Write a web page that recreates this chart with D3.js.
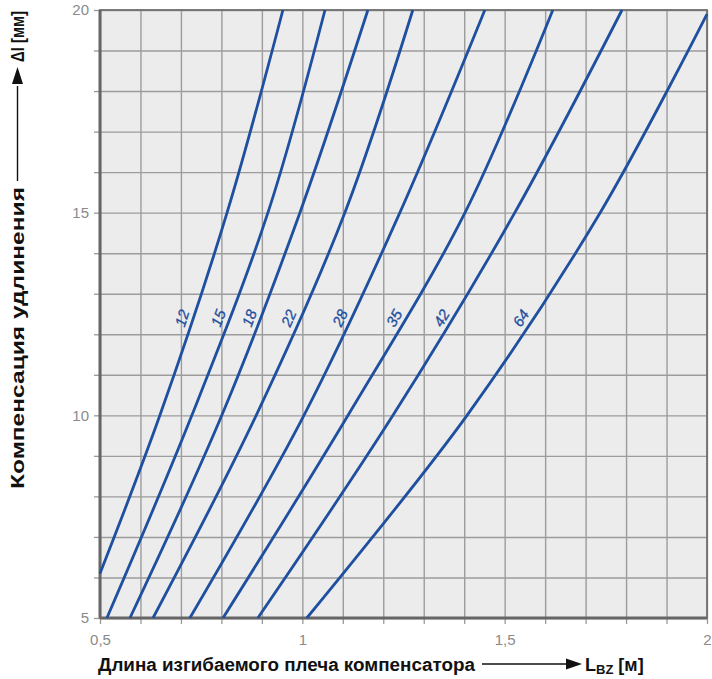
<!DOCTYPE html>
<html><head><meta charset="utf-8">
<script src="https://cdn.jsdelivr.net/npm/d3@7"></script>
<style>
body{margin:0;background:#fff;}
svg{display:block;font-family:"Liberation Sans",Arial,sans-serif;}
</style></head>
<body><svg id="c" width="712" height="679"></svg>
<script>
// ---- data ----
const pipeSizes = [12, 15, 18, 22, 28, 35, 42, 64];
// bending-leg length L_BZ [m] for each pipe size
const len12 = [0.500, 0.648, 0.814, 0.952];
const len15 = [0.517, 0.727, 0.915, 1.056];
const len18 = [0.574, 0.801, 0.994, 1.162];
const len22 = [0.631, 0.886, 1.105, 1.273];
const len28 = [0.722, 1.004, 1.241, 1.451];
const len35 = [0.804, 1.113, 1.402, 1.619];
const len42 = [0.890, 1.224, 1.525, 1.790];
const len64 = [1.011, 1.407, 1.736, 2.000];
// elongation compensation Δl [mm] for each pipe size
const dl12 = [6.1, 10, 15, 20];
const dl15 = [5, 10, 15, 20];
const dl18 = [5, 10, 15, 20];
const dl22 = [5, 10, 15, 20];
const dl28 = [5, 10, 15, 20];
const dl35 = [5, 10, 15, 20];
const dl42 = [5, 10, 15, 20];
const dl64 = [5, 10, 15, 19.9];
const xTickLabels = [0.5, 1, 1.5, 2];
const yTickLabels = [5, 10, 15, 20];
const labelLevel = 12.4;

const lens = [len12, len15, len18, len22, len28, len35, len42, len64];
const dls = [dl12, dl15, dl18, dl22, dl28, dl35, dl42, dl64];
const series = pipeSizes.map((s, i) => ({size: s, pts: lens[i].map((L, j) => [L, dls[i][j]])}));

// ---- layout ----
const svg = d3.select("#c");
const X0 = 100, X1 = 707, Y0 = 10, Y1 = 618;
const x = d3.scaleLinear([0.5, 2], [X0, X1]);
const y = d3.scaleLinear([5, 20], [Y1, Y0]);
const gridX = d3.range(5, 21).map(v => v / 10);
const gridY = d3.range(5, 21);
const loc = d3.formatLocale({decimal: ",", thousands: " ", grouping: [3], currency: ["", ""]});
const fmt = loc.format("~g");

svg.append("rect").attr("x", X0).attr("y", Y0).attr("width", X1 - X0).attr("height", Y1 - Y0).attr("fill", "#ececec");

// grid
const gx = svg.append("g").attr("transform", `translate(0,${Y1})`)
  .call(d3.axisBottom(x).tickValues(gridX).tickSize(-(Y1 - Y0)).tickFormat(""));
gx.select(".domain").remove();
gx.selectAll("line").attr("stroke", "#9c9c9c").attr("stroke-width", 1.4);
const gy = svg.append("g").attr("transform", `translate(${X0},0)`)
  .call(d3.axisLeft(y).tickValues(gridY).tickSize(-(X1 - X0)).tickFormat(""));
gy.select(".domain").remove();
gy.selectAll("line").attr("stroke", "#9c9c9c").attr("stroke-width", 1.4);

// outer ticks + labels
const ax = svg.append("g").attr("transform", `translate(0,${Y1})`)
  .call(d3.axisBottom(x).tickValues(gridX).tickSize(6).tickPadding(10)
    .tickFormat(d => xTickLabels.some(v => Math.abs(v - d) < 1e-9) ? fmt(d) : ""));
ax.select(".domain").remove();
ax.selectAll("line").attr("stroke", "#999").attr("stroke-width", 1.3);
ax.selectAll("text").attr("fill", "#8a8a8a").attr("font-size", 15).attr("font-family", "Liberation Sans, Arial");

const ay = svg.append("g").attr("transform", `translate(${X0},0)`)
  .call(d3.axisLeft(y).tickValues(gridY).tickSize(6).tickPadding(5)
    .tickFormat(d => yTickLabels.includes(d) ? fmt(d) : ""));
ay.select(".domain").remove();
ay.selectAll("line").attr("stroke", "#999").attr("stroke-width", 1.3);
ay.selectAll("text").attr("fill", "#8a8a8a").attr("font-size", 15).attr("font-family", "Liberation Sans, Arial");

// frame
svg.append("rect").attr("x", X0).attr("y", Y0).attr("width", X1 - X0).attr("height", Y1 - Y0)
  .attr("fill", "none").attr("stroke", "#707070").attr("stroke-width", 1.8);
svg.append("line").attr("x1", X0).attr("x2", X0).attr("y1", Y0).attr("y2", Y1).attr("stroke", "#666").attr("stroke-width", 3);
svg.append("line").attr("x1", X0).attr("x2", X1).attr("y1", Y1).attr("y2", Y1).attr("stroke", "#666").attr("stroke-width", 3);

// curves
const blue = "#1f4f9f";
const line = d3.line().x(d => x(d[0])).y(d => y(d[1])).curve(d3.curveCatmullRom.alpha(0.5));
svg.append("g").selectAll("path").data(series).join("path")
  .attr("d", d => line(d.pts)).attr("fill", "none").attr("stroke", blue).attr("stroke-width", 2.8);

// curve labels
series.forEach(s => {
  const p = s.pts;
  let k = 0;
  while (k < p.length - 2 && p[k + 1][1] < labelLevel) k++;
  const a = p[k], b = p[k + 1];
  const t = (labelLevel - a[1]) / (b[1] - a[1]);
  const L = a[0] + t * (b[0] - a[0]);
  const px = x(L), py = y(labelLevel);
  const ang = Math.atan2(y(b[1]) - y(a[1]), x(b[0]) - x(a[0])) * 180 / Math.PI;
  svg.append("text").attr("transform", `translate(${px - 10},${py}) rotate(${ang})`)
    .attr("text-anchor", "middle").attr("dy", "0.35em")
    .attr("font-size", 15).attr("font-style", "italic").attr("fill", blue)
    .attr("stroke", blue).attr("stroke-width", 0.3)
    .text(s.size);
});

// x title
svg.append("text").attr("x", 98).attr("y", 671).attr("font-size", 18).attr("font-weight", "bold")
  .attr("textLength", 377).attr("lengthAdjust", "spacingAndGlyphs")
  .attr("fill", "#111").text("Длина изгибаемого плеча компенсатора");
svg.append("line").attr("x1", 482).attr("x2", 570).attr("y1", 664).attr("y2", 664).attr("stroke", "#111").attr("stroke-width", 1.4);
svg.append("path").attr("d", "M566,658.5 L582,664 L566,669.5 Z").attr("fill", "#111");
const lt = svg.append("text").attr("x", 585).attr("y", 671).attr("font-size", 18).attr("font-weight", "bold").attr("fill", "#111");
lt.append("tspan").text("L");
lt.append("tspan").attr("font-size", 13).attr("dy", 3).text("BZ");
lt.append("tspan").attr("dy", -3).text(" [м]");

// y title
const yg = svg.append("g").attr("transform", "translate(24,0) rotate(-90)");
yg.append("text").attr("x", -489).attr("y", 0).attr("font-size", 18).attr("font-weight", "bold")
  .attr("textLength", 302).attr("lengthAdjust", "spacingAndGlyphs")
  .attr("fill", "#111").text("Компенсация удлинения");
yg.append("text").attr("x", -62).attr("y", 0).attr("font-size", 18).attr("font-weight", "bold")
  .attr("textLength", 51).attr("lengthAdjust", "spacingAndGlyphs")
  .attr("fill", "#111").text("Δl [мм]");
yg.append("line").attr("x1", -181).attr("x2", -86).attr("y1", -6.5).attr("y2", -6.5).attr("stroke", "#111").attr("stroke-width", 1.4);
yg.append("path").attr("d", "M-84,-12 L-67,-6.5 L-84,-1 Z").attr("fill", "#111");
</script></body></html>
